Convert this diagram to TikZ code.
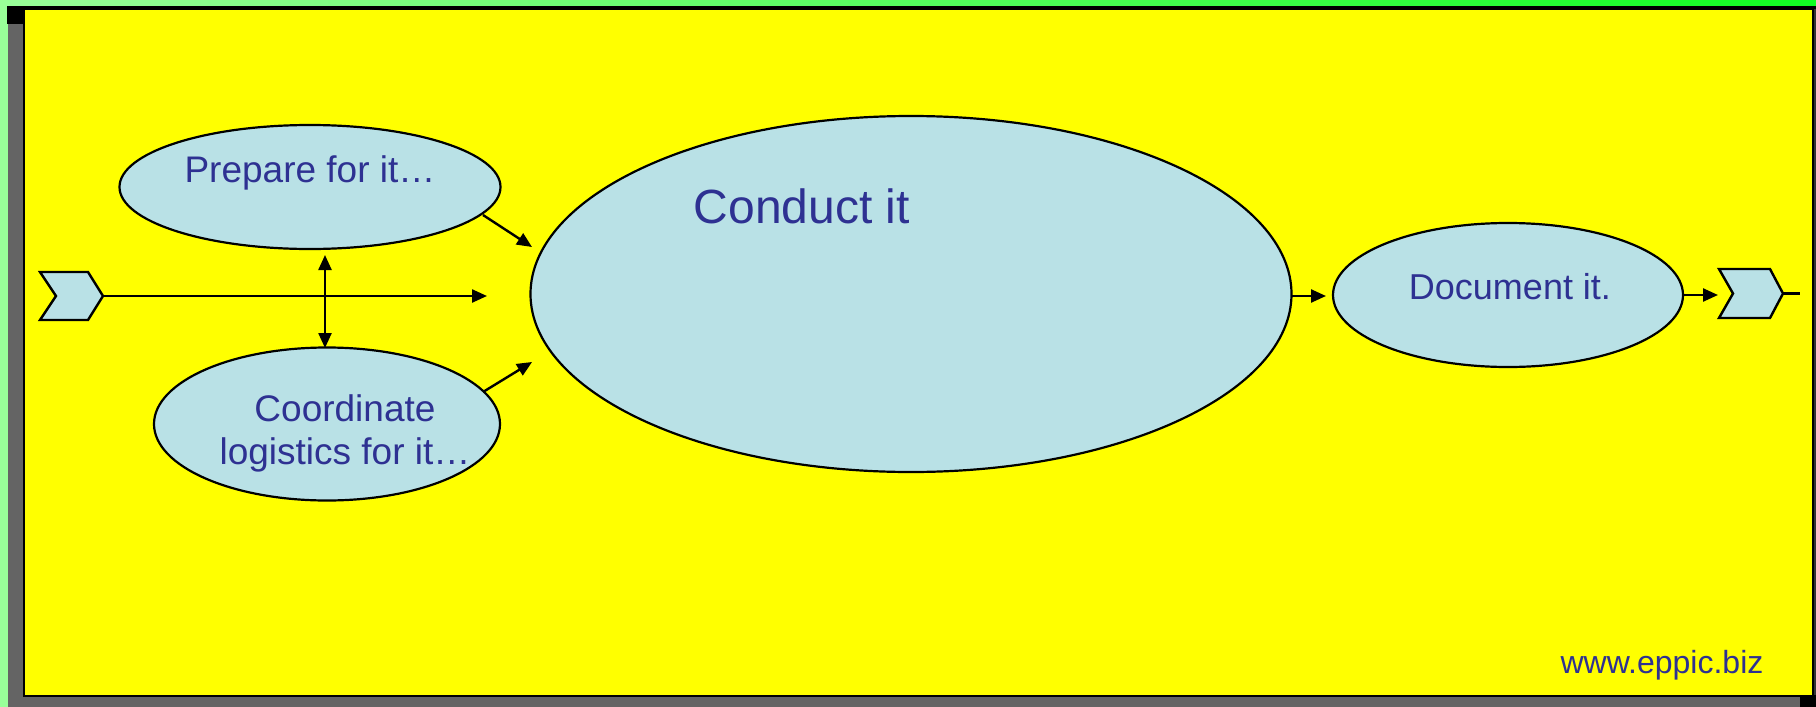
\documentclass[tikz,border=0pt]{standalone}
\usepackage{fontspec}
\setmainfont{Liberation Sans}
\usetikzlibrary{shapes.geometric,arrows.meta}
\definecolor{paleg}{RGB}{153,255,153}
\definecolor{brightg}{RGB}{17,255,34}
\definecolor{frgray}{RGB}{100,100,100}
\definecolor{bgyellow}{RGB}{255,255,0}
\definecolor{ellfill}{RGB}{185,225,230}
\definecolor{txtblue}{RGB}{46,49,146}
\tikzset{
  bubble/.style={ellipse, draw=black, line width=2.2pt, fill=ellfill, inner sep=0pt},
  label37/.style={text=txtblue, inner sep=0pt, anchor=base, font=\fontsize{37}{43}\selectfont},
  flow/.style={line width=2.4pt, -{Triangle[length=15pt,width=13pt]}},
  flow2/.style={line width=2.4pt, {Triangle[length=15pt,width=13pt]}-{Triangle[length=15pt,width=13pt]}},
  chev/.style={draw=black, line width=2.4pt, fill=ellfill, line join=miter},
}
\begin{document}
\begin{tikzpicture}[x=1pt,y=-1pt]
\useasboundingbox (0,0) rectangle (1816,707);
% frame
\fill[paleg] (0,0) rectangle (8,707);
\shade[left color=paleg,right color=brightg] (0,0) rectangle (1816,6);
\fill[black] (7,6) rectangle (1816,9);
\fill[black] (7,6) rectangle (25,24);
\fill[frgray] (8,24) rectangle (23,707);
\fill[frgray] (8,695) rectangle (1800,707);
\fill[black] (1800,695) rectangle (1816,707);
\fill[black!80] (1813,9) rectangle (1816,695);
\filldraw[fill=bgyellow, draw=black, line width=2pt] (24,9) rectangle (1813,696);
% ellipses
\node[bubble, minimum width=381pt, minimum height=124pt] (prep) at (310,187) {};
\node[bubble, minimum width=346pt, minimum height=153pt] (coord) at (327,424) {};
\node[bubble, minimum width=761pt, minimum height=356pt] (conduct) at (911,294) {};
\node[bubble, minimum width=350pt, minimum height=144pt] (doc) at (1508,295) {};
% texts
\node[label37] (preptxt) at (310,182) {Prepare for it…};
\node[label37, align=center, anchor=center] (coordtxt) at (345,433) {Coordinate\\logistics for it…};
\node[label37, font=\fontsize{48}{56}\selectfont] (conducttxt) at (802,223) {Conduct it};
\node[label37, font=\fontsize{36}{42}\selectfont] (doctxt) at (1510,299) {Document it.};
\node[label37, font=\fontsize{32}{38}\selectfont] (www) at (1662,673) {www.eppic.biz};
% chevrons
\draw[chev] (40,272) -- (88,272) -- (103,296) -- (88,320) -- (40,320) -- (56,296) -- cycle;
\coordinate (chevLtip) at (103,296);
\draw[chev] (1719,269) -- (1770,269) -- (1783,293.5) -- (1770,318) -- (1719,318) -- (1733,293.5) -- cycle;
\coordinate (chevRtip) at (1783,293.5);
\coordinate (chevRin) at (1718,295);
\coordinate (tailend) at (1800,293.5);
% connector end points
\coordinate (mainend) at (487,296);
\coordinate (dbltop) at (325,255);
\coordinate (dblbot) at (325,348);
\coordinate (p1s) at (483,215);
\coordinate (p1e) at (532,247);
\coordinate (c1s) at (483,392);
\coordinate (c1e) at (532,362);
\coordinate (condR) at (1292,296);
\coordinate (docL) at (1326,296);
\coordinate (docR) at (1684,295);
% connectors
\draw[flow] (chevLtip) -- (mainend);
\draw[flow2] (dbltop) -- (dblbot);
\draw[flow] (p1s) -- (p1e);
\draw[flow] (c1s) -- (c1e);
\draw[flow] (condR) -- (docL);
\draw[flow] (docR) -- (chevRin);
\draw[line width=2.4pt] (chevRtip) -- (tailend);
\end{tikzpicture}
\end{document}
